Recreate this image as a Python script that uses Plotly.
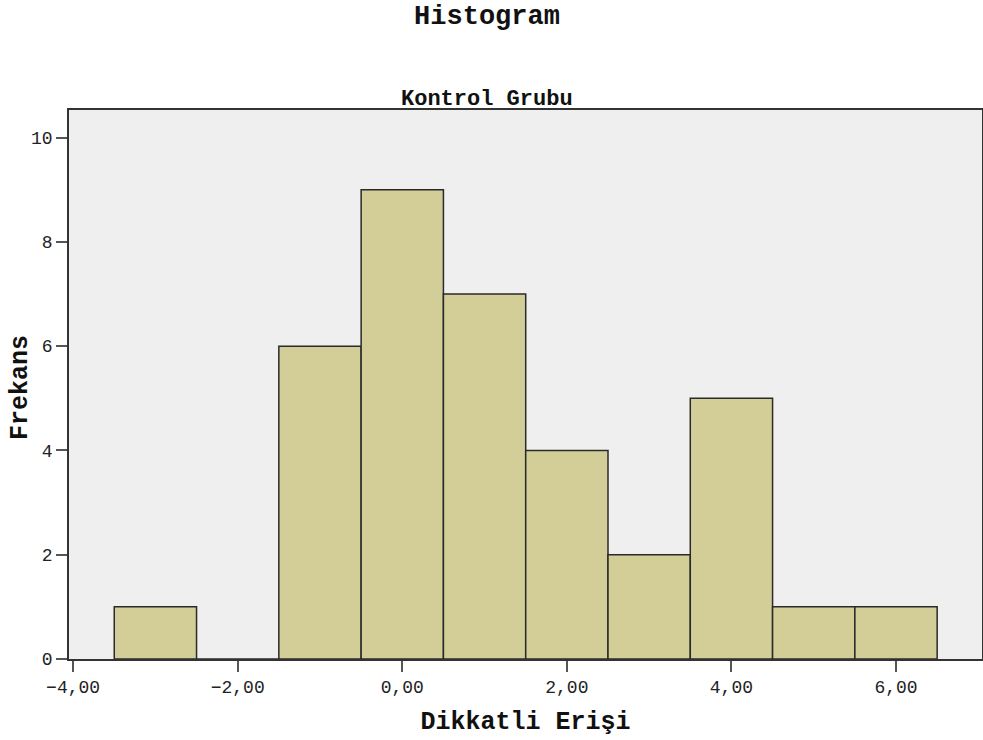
import plotly.graph_objects as go

bin_centers = [-3, -2, -1, 0, 1, 2, 3, 4, 5, 6]
frequencies = [1, 0, 6, 9, 7, 4, 2, 5, 1, 1]
x_ticks = [-4, -2, 0, 2, 4, 6]
y_ticks = [0, 2, 4, 6, 8, 10]

MONO = "Liberation Mono, Courier New, monospace"

fig = go.Figure(go.Bar(
    x=bin_centers, y=frequencies, width=1,
    marker=dict(color="#d3ce97", line=dict(color="#2a2a2a", width=1.5)),
    hoverinfo="x+y",
))

fig.update_layout(
    width=983, height=740,
    paper_bgcolor="white", plot_bgcolor="#efefef",
    margin=dict(l=69, r=1, t=110, b=81, autoexpand=False),
    separators=", ",
    showlegend=False,
    title=dict(text="<b>Histogram</b>", x=487/983, xanchor="center",
               y=1 - 15/740, yanchor="middle", yref="container",
               font=dict(family=MONO, size=27, color="#111")),
    annotations=[
        dict(text="<b>Kontrol Grubu</b>", xref="paper", yref="paper",
             x=(487-69)/913, y=1, xanchor="center", yanchor="middle",
             yshift=11, showarrow=False,
             font=dict(family=MONO, size=22, color="#111")),
        dict(text="<b>Frekans</b>", xref="paper", yref="paper",
             x=(20-69)/913, y=(659-388)/549, xanchor="center", yanchor="middle",
             textangle=-90, showarrow=False,
             font=dict(family=MONO, size=25, color="#111")),
    ],
    font=dict(family=MONO, color="#222"),
)

fig.update_xaxes(
    range=[-4.05, 7.045], tickvals=x_ticks, tickformat=".2f",
    ticks="outside", ticklen=11, tickwidth=2, tickcolor="#555",
    showline=True, linecolor="#333", linewidth=1.5, mirror=True,
    showgrid=False, zeroline=False,
    tickfont=dict(family=MONO, size=18, color="#222"),
    title=dict(text="<b>Dikkatli Erişi</b>", standoff=14,
               font=dict(family=MONO, size=25, color="#111")),
)
fig.update_yaxes(
    range=[0, 10.53], tickvals=y_ticks, tickformat="d",
    ticks="outside", ticklen=11, tickwidth=2, tickcolor="#555",
    showline=True, linecolor="#333", linewidth=1.5, mirror=True,
    showgrid=False, zeroline=False,
    tickfont=dict(family=MONO, size=18, color="#222"),
)

fig.write_html("out.html", config={"displayModeBar": False},
               post_script="document.body.style.margin='0';document.body.style.overflow='hidden';")
